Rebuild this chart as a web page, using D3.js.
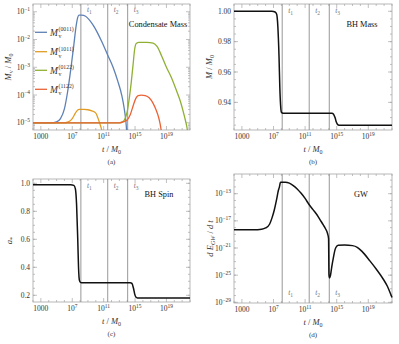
<!DOCTYPE html>
<html><head><meta charset="utf-8">
<script src="https://cdn.jsdelivr.net/npm/d3@7"></script>
<style>
body{margin:0;background:#fff}
svg{display:block}
text{font-family:"Liberation Serif","Times New Roman",serif;fill:#333}
</style>
</head><body>
<svg id="chart" width="399" height="344"></svg>
<script>
// ---------------- DATA ----------------
const xTickExp = [3, 7, 11, 15, 19];            // x tick labels: 1000, 10^7 ...
const eventExp = [8.1, 11.52, 14.06];           // log10 of t1, t2, t3
const eventNames = ["1", "2", "3"];

const seriesNames = ["(0011)", "(1011)", "(0122)", "(1122)"];
// condensate masses: [log10 t, log10 Mv/M0]
const m0011 = [[2,-5],[4.5,-5],[5.0,-4.97],[5.5,-4.85],[6.0,-4.5],[6.4,-3.9],[6.8,-3.1],[7.2,-2.2],[7.5,-1.5],[7.7,-1.2],[7.85,-1.12],[8.2,-1.12],[8.7,-1.16],[9.2,-1.3],[9.7,-1.5],[10.2,-1.75],[10.8,-2.1],[11.5,-2.55],[12.2,-3.0],[12.8,-3.5],[13.3,-4.0],[13.6,-4.45],[13.85,-5.0],[14.0,-5.6]];
const m1011 = [[2,-5],[6.0,-5],[6.5,-4.97],[7.0,-4.85],[7.4,-4.65],[7.7,-4.54],[7.9,-4.52],[8.5,-4.52],[9.0,-4.53],[9.5,-4.57],[10.0,-4.65],[10.3,-4.85],[10.5,-5.02],[10.7,-5.2],[10.85,-5.4]];
const m0122 = [[2,-5],[13.0,-5],[13.5,-4.95],[13.8,-4.8],[14.0,-4.6],[14.25,-4.15],[14.5,-3.58],[14.75,-2.9],[14.95,-2.35],[15.15,-2.14],[15.5,-2.1],[16.5,-2.1],[17.3,-2.13],[17.8,-2.25],[18.4,-2.6],[19.0,-3.0],[19.6,-3.35],[20.25,-3.82],[20.8,-4.25],[21.3,-4.78],[21.6,-5.15],[21.8,-5.5]];
const m1122 = [[2,-5],[13.0,-5],[13.5,-4.97],[14.0,-4.9],[14.4,-4.7],[14.8,-4.35],[15.1,-4.12],[15.4,-4.02],[15.8,-4.0],[16.3,-4.02],[16.8,-4.1],[17.3,-4.3],[17.7,-4.55],[18.0,-4.8],[18.2,-5.05],[18.4,-5.4]];
const yTickExpA = [-1, -2, -3, -4, -5];

// BH mass: [log10 t, M/M0]
const bhMass = [[2,1.0],[6.8,1.0],[7.2,0.9995],[7.4,0.998],[7.55,0.99],[7.7,0.97],[7.8,0.95],[7.9,0.938],[8.0,0.9335],[8.2,0.9328],[14.4,0.9328],[14.6,0.9322],[14.8,0.9298],[14.95,0.927],[15.1,0.9255],[15.3,0.925],[22,0.925]];
const yTicksB = [1.00, 0.98, 0.96, 0.94];

// BH spin: [log10 t, a*]
const bhSpin = [[2,0.99],[6.8,0.99],[7.2,0.985],[7.4,0.96],[7.55,0.85],[7.7,0.6],[7.8,0.40],[7.9,0.31],[8.0,0.295],[8.2,0.29],[14.4,0.29],[14.6,0.285],[14.8,0.25],[14.95,0.21],[15.1,0.187],[15.3,0.181],[22,0.181]];
const yTicksC = [1.0, 0.8, 0.6, 0.4, 0.2];

// GW power: [log10 t, log10 dE/dt]
const gwPower = [[2,-18.3],[5.0,-18.3],[5.5,-18.25],[6.0,-18.05],[6.5,-17.5],[6.8,-16.6],[7.1,-15.4],[7.4,-13.8],[7.6,-12.6],[7.75,-12.0],[7.82,-11.6],[7.88,-11.32],[8.5,-11.32],[9.0,-11.45],[9.5,-11.8],[10.0,-12.3],[10.5,-12.95],[11.0,-13.7],[11.5,-14.6],[12.0,-15.35],[12.5,-16.1],[12.9,-16.85],[13.3,-17.6],[13.6,-18.2],[13.85,-18.9],[13.97,-19.6],[14.02,-24.9],[14.08,-25.4],[14.2,-25.1],[14.37,-23.8],[14.6,-22.3],[14.8,-21.2],[15.0,-20.75],[15.2,-20.6],[16.0,-20.55],[17.0,-20.65],[17.6,-20.9],[18.2,-21.5],[19.2,-22.9],[20.0,-24.1],[20.9,-25.6],[21.4,-26.6],[21.8,-27.7],[22.0,-28.3]];
const yTickExpD = [-13, -17, -21, -25, -29];

// ---------------- STYLE ----------------
const seriesColors = ["#5E81B5", "#E19C24", "#8FB032", "#EB6235"];
const frameColor = "#a6a6a6";
const svg = d3.select("#chart");

function supText(g, x, y, base, sup, anchor, size) {
  const t = g.append("text").attr("x", x).attr("y", y).attr("text-anchor", anchor)
    .attr("font-size", size);
  t.append("tspan").text(base);
  if (sup) t.append("tspan").attr("font-size", size * 0.72).attr("dy", -size * 0.42).text(sup);
  return t;
}

function panel(box, yScale, opts) {
  const g = svg.append("g");
  const x = d3.scaleLinear().domain([2, 22]).range([box.x0, box.x1]);
  const y = yScale.range([box.y1, box.y0]);
  g.append("rect").attr("x", box.x0).attr("y", box.y0).attr("width", box.x1 - box.x0)
    .attr("height", box.y1 - box.y0).attr("fill", "none").attr("stroke", frameColor).attr("stroke-width", 0.8);
  const tk = (x1, y1, x2, y2) => g.append("line").attr("x1", x1).attr("y1", y1).attr("x2", x2).attr("y2", y2)
    .attr("stroke", frameColor).attr("stroke-width", 0.7);
  for (let e = 2; e <= 22; e++) {
    const major = xTickExp.includes(e);
    const L = major ? 4 : 2;
    const px = x(e);
    tk(px, box.y1, px, box.y1 - L); tk(px, box.y0, px, box.y0 + L);
  }
  xTickExp.forEach(e => {
    if (e === 3) supText(g, x(e), box.y1 + 9, "1000", "", "middle", 7.5);
    else supText(g, x(e), box.y1 + 9, "10", String(e), "middle", 7.5);
  });
  opts.yMajor.forEach(v => { const py = y(v); tk(box.x0, py, box.x0 + 4, py); tk(box.x1, py, box.x1 - 4, py); });
  opts.yMinor.forEach(v => { const py = y(v); if (py < box.y0 || py > box.y1) return; tk(box.x0, py, box.x0 + 2, py); tk(box.x1, py, box.x1 - 2, py); });
  opts.yMajor.forEach((v, i) => {
    const lab = opts.yLabels[i];
    supText(g, box.x0 - 3, y(v) + 2.5, lab[0], lab[1], "end", 7.5);
  });
  eventExp.forEach((e, i) => {
    g.append("line").attr("x1", x(e)).attr("x2", x(e)).attr("y1", box.y0).attr("y2", box.y1)
      .attr("stroke", "#8c8c8c").attr("stroke-width", 0.9);
    const t = g.append("text").attr("x", x(e) + 6).attr("y", opts.evY).attr("font-size", 7.5)
      .attr("font-style", "italic").style("fill", "#777");
    t.append("tspan").text("t");
    t.append("tspan").attr("font-size", 5.5).attr("dy", 1.5).attr("font-style", "normal").text(eventNames[i]);
  });
  const xl = g.append("text").attr("x", (box.x0 + box.x1) / 2).attr("y", box.y1 + 22)
    .attr("text-anchor", "middle").attr("font-size", 8.5);
  xl.append("tspan").attr("font-style", "italic").text("t");
  xl.append("tspan").text("  /  ");
  xl.append("tspan").attr("font-style", "italic").text("M");
  xl.append("tspan").attr("font-size", 6).attr("dy", 2).text("0");
  g.append("text").attr("x", (box.x0 + box.x1) / 2).attr("y", box.y1 + 34)
    .attr("text-anchor", "middle").attr("font-size", 7).text(opts.tag);
  g.append("text").attr("x", opts.titleX).attr("y", opts.titleY).attr("text-anchor", "middle")
    .attr("font-size", 8.3).style("fill", "#111").text(opts.title);
  const yl = g.append("text").attr("transform", `translate(${opts.yLabX},${(box.y0 + box.y1) / 2}) rotate(-90)`)
    .attr("text-anchor", "middle").attr("font-size", 8.5);
  opts.yLab(yl);
  return { g, x, y };
}

const lineGen = (x, y, f) => d3.line().x(d => x(d[0])).y(d => y(f(d[1]))).curve(d3.curveMonotoneX);

// ---------- (a) ----------
{
  const minors = [];
  for (let e = -6; e <= 0; e++) for (let k = 2; k <= 9; k++) minors.push(k * Math.pow(10, e));
  const P = panel({ x0: 33, x1: 190, y0: 4, y1: 130 },
    d3.scaleLog().domain([Math.pow(10, -5.26), Math.pow(10, -0.72)]),
    { yMajor: yTickExpA.map(e => Math.pow(10, e)), yMinor: minors,
      yLabels: yTickExpA.map(e => ["10", "\u2212" + Math.abs(e)]),
      evY: 12, tag: "(a)", title: "Condensate Mass", titleX: 158, titleY: 27, yLabX: 11,
      yLab: t => { t.append("tspan").attr("font-style", "italic").text("M");
        t.append("tspan").attr("font-size", 6).attr("dy", 2).text("v");
        t.append("tspan").attr("dy", -2).text("  /  ");
        t.append("tspan").attr("font-style", "italic").text("M");
        t.append("tspan").attr("font-size", 6).attr("dy", 2).text("0"); } });
  svg.append("clipPath").attr("id", "clipA").append("rect")
    .attr("x", 33).attr("y", 4).attr("width", 157).attr("height", 126);
  const series = [m0011, m1011, m0122, m1122];
  series.forEach((s, i) => {
    P.g.append("path").attr("d", lineGen(P.x, P.y, v => Math.pow(10, v))(s))
      .attr("fill", "none").attr("stroke", seriesColors[i]).attr("stroke-width", 1.3)
      .attr("clip-path", "url(#clipA)");
  });
  const ly = [32.3, 51.7, 70.3, 89.3];
  seriesNames.forEach((n, i) => {
    P.g.append("line").attr("x1", 35).attr("x2", 47).attr("y1", ly[i]).attr("y2", ly[i])
      .attr("stroke", seriesColors[i]).attr("stroke-width", 1.3);
    P.g.append("text").attr("x", 50).attr("y", ly[i] + 3.5).attr("font-size", 9.5)
      .attr("font-style", "italic").text("M");
    P.g.append("text").attr("x", 58.5).attr("y", ly[i] + 6).attr("font-size", 5.8).text("v");
    P.g.append("text").attr("x", 58.5).attr("y", ly[i] - 1).attr("font-size", 5.8).text(n);
  });
}

// ---------- (b) ----------
{
  const minors = d3.range(0.92, 1.006, 0.005);
  const P = panel({ x0: 234, x1: 392, y0: 4, y1: 130 },
    d3.scaleLinear().domain([0.9218, 1.0048]),
    { yMajor: yTicksB, yMinor: minors, yLabels: yTicksB.map(v => [v.toFixed(2), ""]),
      evY: 13, tag: "(b)", title: "BH Mass", titleX: 362, titleY: 27, yLabX: 212,
      yLab: t => { t.append("tspan").attr("font-style", "italic").text("M");
        t.append("tspan").text("  /  ");
        t.append("tspan").attr("font-style", "italic").text("M");
        t.append("tspan").attr("font-size", 6).attr("dy", 2).text("0"); } });
  P.g.append("path").attr("d", lineGen(P.x, P.y, v => v)(bhMass))
    .attr("fill", "none").attr("stroke", "#111").attr("stroke-width", 1.5);
}

// ---------- (c) ----------
{
  const minors = d3.range(0.15, 1.05, 0.05);
  const P = panel({ x0: 33, x1: 190, y0: 179, y1: 302 },
    d3.scaleLinear().domain([0.152, 1.031]),
    { yMajor: yTicksC, yMinor: minors, yLabels: yTicksC.map(v => [v.toFixed(1), ""]),
      evY: 188, tag: "(c)", title: "BH Spin", titleX: 159, titleY: 197, yLabX: 12,
      yLab: t => { t.append("tspan").attr("font-style", "italic").text("a");
        t.append("tspan").attr("font-size", 6).attr("dy", 2).text("*"); } });
  P.g.append("path").attr("d", lineGen(P.x, P.y, v => v)(bhSpin))
    .attr("fill", "none").attr("stroke", "#111").attr("stroke-width", 1.5);
}

// ---------- (d) ----------
{
  const minors = d3.range(-30, -9, 1).map(e => Math.pow(10, e));
  const P = panel({ x0: 234, x1: 392, y0: 174, y1: 303 },
    d3.scaleLog().domain([Math.pow(10, -29.1), Math.pow(10, -10.1)]),
    { yMajor: yTickExpD.map(e => Math.pow(10, e)), yMinor: minors,
      yLabels: yTickExpD.map(e => ["10", "\u2212" + Math.abs(e)]),
      evY: 295, tag: "(d)", title: "GW", titleX: 361, titleY: 197, yLabX: 213,
      yLab: t => { t.append("tspan").attr("font-style", "italic").text("d E");
        t.append("tspan").attr("font-size", 6).attr("dy", 2).attr("font-style", "italic").text("GW");
        t.append("tspan").attr("dy", -2).text("  /  ");
        t.append("tspan").attr("font-style", "italic").text("d t"); } });
  P.g.append("path").attr("d", lineGen(P.x, P.y, v => Math.pow(10, v))(gwPower))
    .attr("fill", "none").attr("stroke", "#111").attr("stroke-width", 1.5);
}
</script>
</body></html>
